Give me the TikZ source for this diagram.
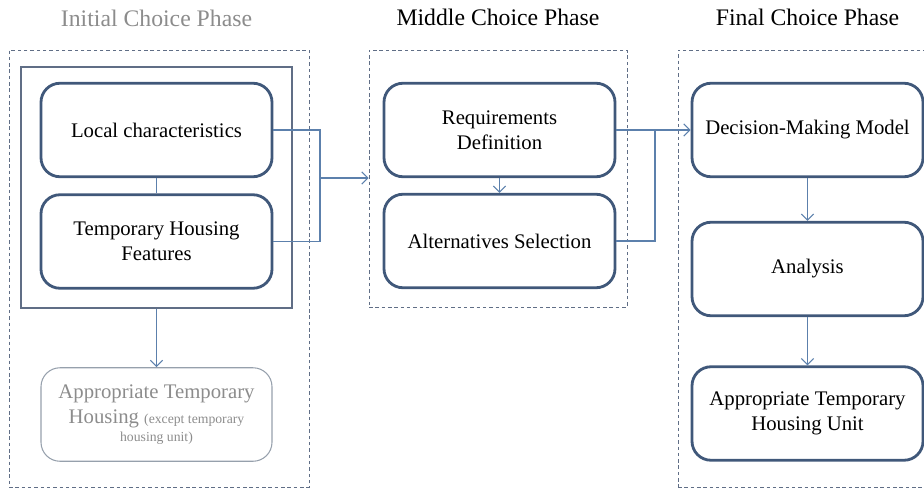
\documentclass[tikz,border=0pt]{standalone}
\usepackage{fontspec}
\setmainfont{Liberation Serif}
\usetikzlibrary{shapes.geometric, arrows.meta}

\definecolor{boxline}{RGB}{64,88,122}
\definecolor{linkline}{RGB}{92,128,172}
\definecolor{frameline}{RGB}{96,110,134}
\definecolor{fadedtext}{RGB}{140,140,140}
\definecolor{fadedline}{RGB}{150,160,172}

\begin{document}
\begin{tikzpicture}
    \tikzstyle{phase} = [rectangle, dash pattern=on 2pt off 1.6pt, draw=frameline, line width=0.5pt, inner sep=0pt]
    \tikzstyle{heading} = [font=\fontsize{13.5}{16}\selectfont]
    \tikzstyle{process} = [rectangle, rounded corners=0.38cm, minimum width=4.62cm, minimum height=1.87cm, text centered, align=center, draw=boxline, line width=1.6pt, font=\fontsize{11.8}{14.2}\selectfont]
    \tikzstyle{faded} = [process, draw=fadedline, line width=0.6pt, text=fadedtext]
    \tikzstyle{group} = [rectangle, minimum width=5.42cm, minimum height=4.82cm, draw=frameline, line width=0.6pt]
    \tikzstyle{link} = [draw=linkline, line width=0.6pt]
    \tikzstyle{arrow} = [link, -{Straight Barb[length=3.5pt,width=7pt]}]

    \useasboundingbox (0,0) rectangle (18.48,-9.84);

    % phase frames
    \node (initial) [phase, minimum width=6cm, minimum height=8.74cm] at (3.18,-5.37) {};
    \node (middle) [phase, minimum width=5.16cm, minimum height=5.14cm] at (9.96,-3.57) {};
    \node (final) [phase, minimum width=5.14cm, minimum height=8.74cm] at (16.13,-5.37) {};

    % initial phase
    \node (local) [process] at (3.13,-2.60) {Local characteristics};
    \node (features) [process, below of=local, yshift=-1.23cm] {Temporary Housing\\Features};
    \node (inputs) [group, below of=local, yshift=-0.15cm] {};
    \node (housing) [faded, below of=features, yshift=-2.46cm] {Appropriate Temporary\\Housing {\fontsize{7.8}{9.5}\selectfont (except temporary}\\[-4pt]{\fontsize{7.8}{9.5}\selectfont housing unit)}};

    % middle phase
    \node (require) [process, right of=local, xshift=5.86cm] {Requirements\\Definition};
    \node (select) [process, below of=require, yshift=-1.22cm] {Alternatives Selection};

    % final phase
    \node (model) [process, right of=require, xshift=5.16cm] {Decision-Making Model};
    \node (analysis) [process, below of=model, yshift=-1.78cm] {Analysis};
    \node (unit) [process, below of=analysis, yshift=-1.89cm] {Appropriate Temporary\\Housing Unit};

    % headings
    \node (t1) [heading, text=fadedtext, above of=local, yshift=1.24cm] {Initial Choice Phase};
    \node (t2) [heading, above of=require, yshift=1.25cm, xshift=-0.03cm] {Middle Choice Phase};
    \node (t3) [heading, above of=model, yshift=1.25cm] {Final Choice Phase};

    \coordinate (joinA) at (6.40,-3.56);
    \coordinate (joinB) at (13.10,-2.61);

    \draw [link] (local) -- (features);
    \draw [arrow] (inputs) -- (housing);
    \draw [link] (local.east) -| (joinA);
    \draw [link] (features.east) -| (joinA);
    \draw [arrow] (joinA) -- (joinA -| middle.west);
    \draw [arrow] (require) -- (select);
    \draw [arrow] (require.east) -- (model.west);
    \draw [link] (select.east) -| (joinB);
    \draw [arrow] (model) -- (analysis);
    \draw [arrow] (analysis) -- (unit);
\end{tikzpicture}
\end{document}
